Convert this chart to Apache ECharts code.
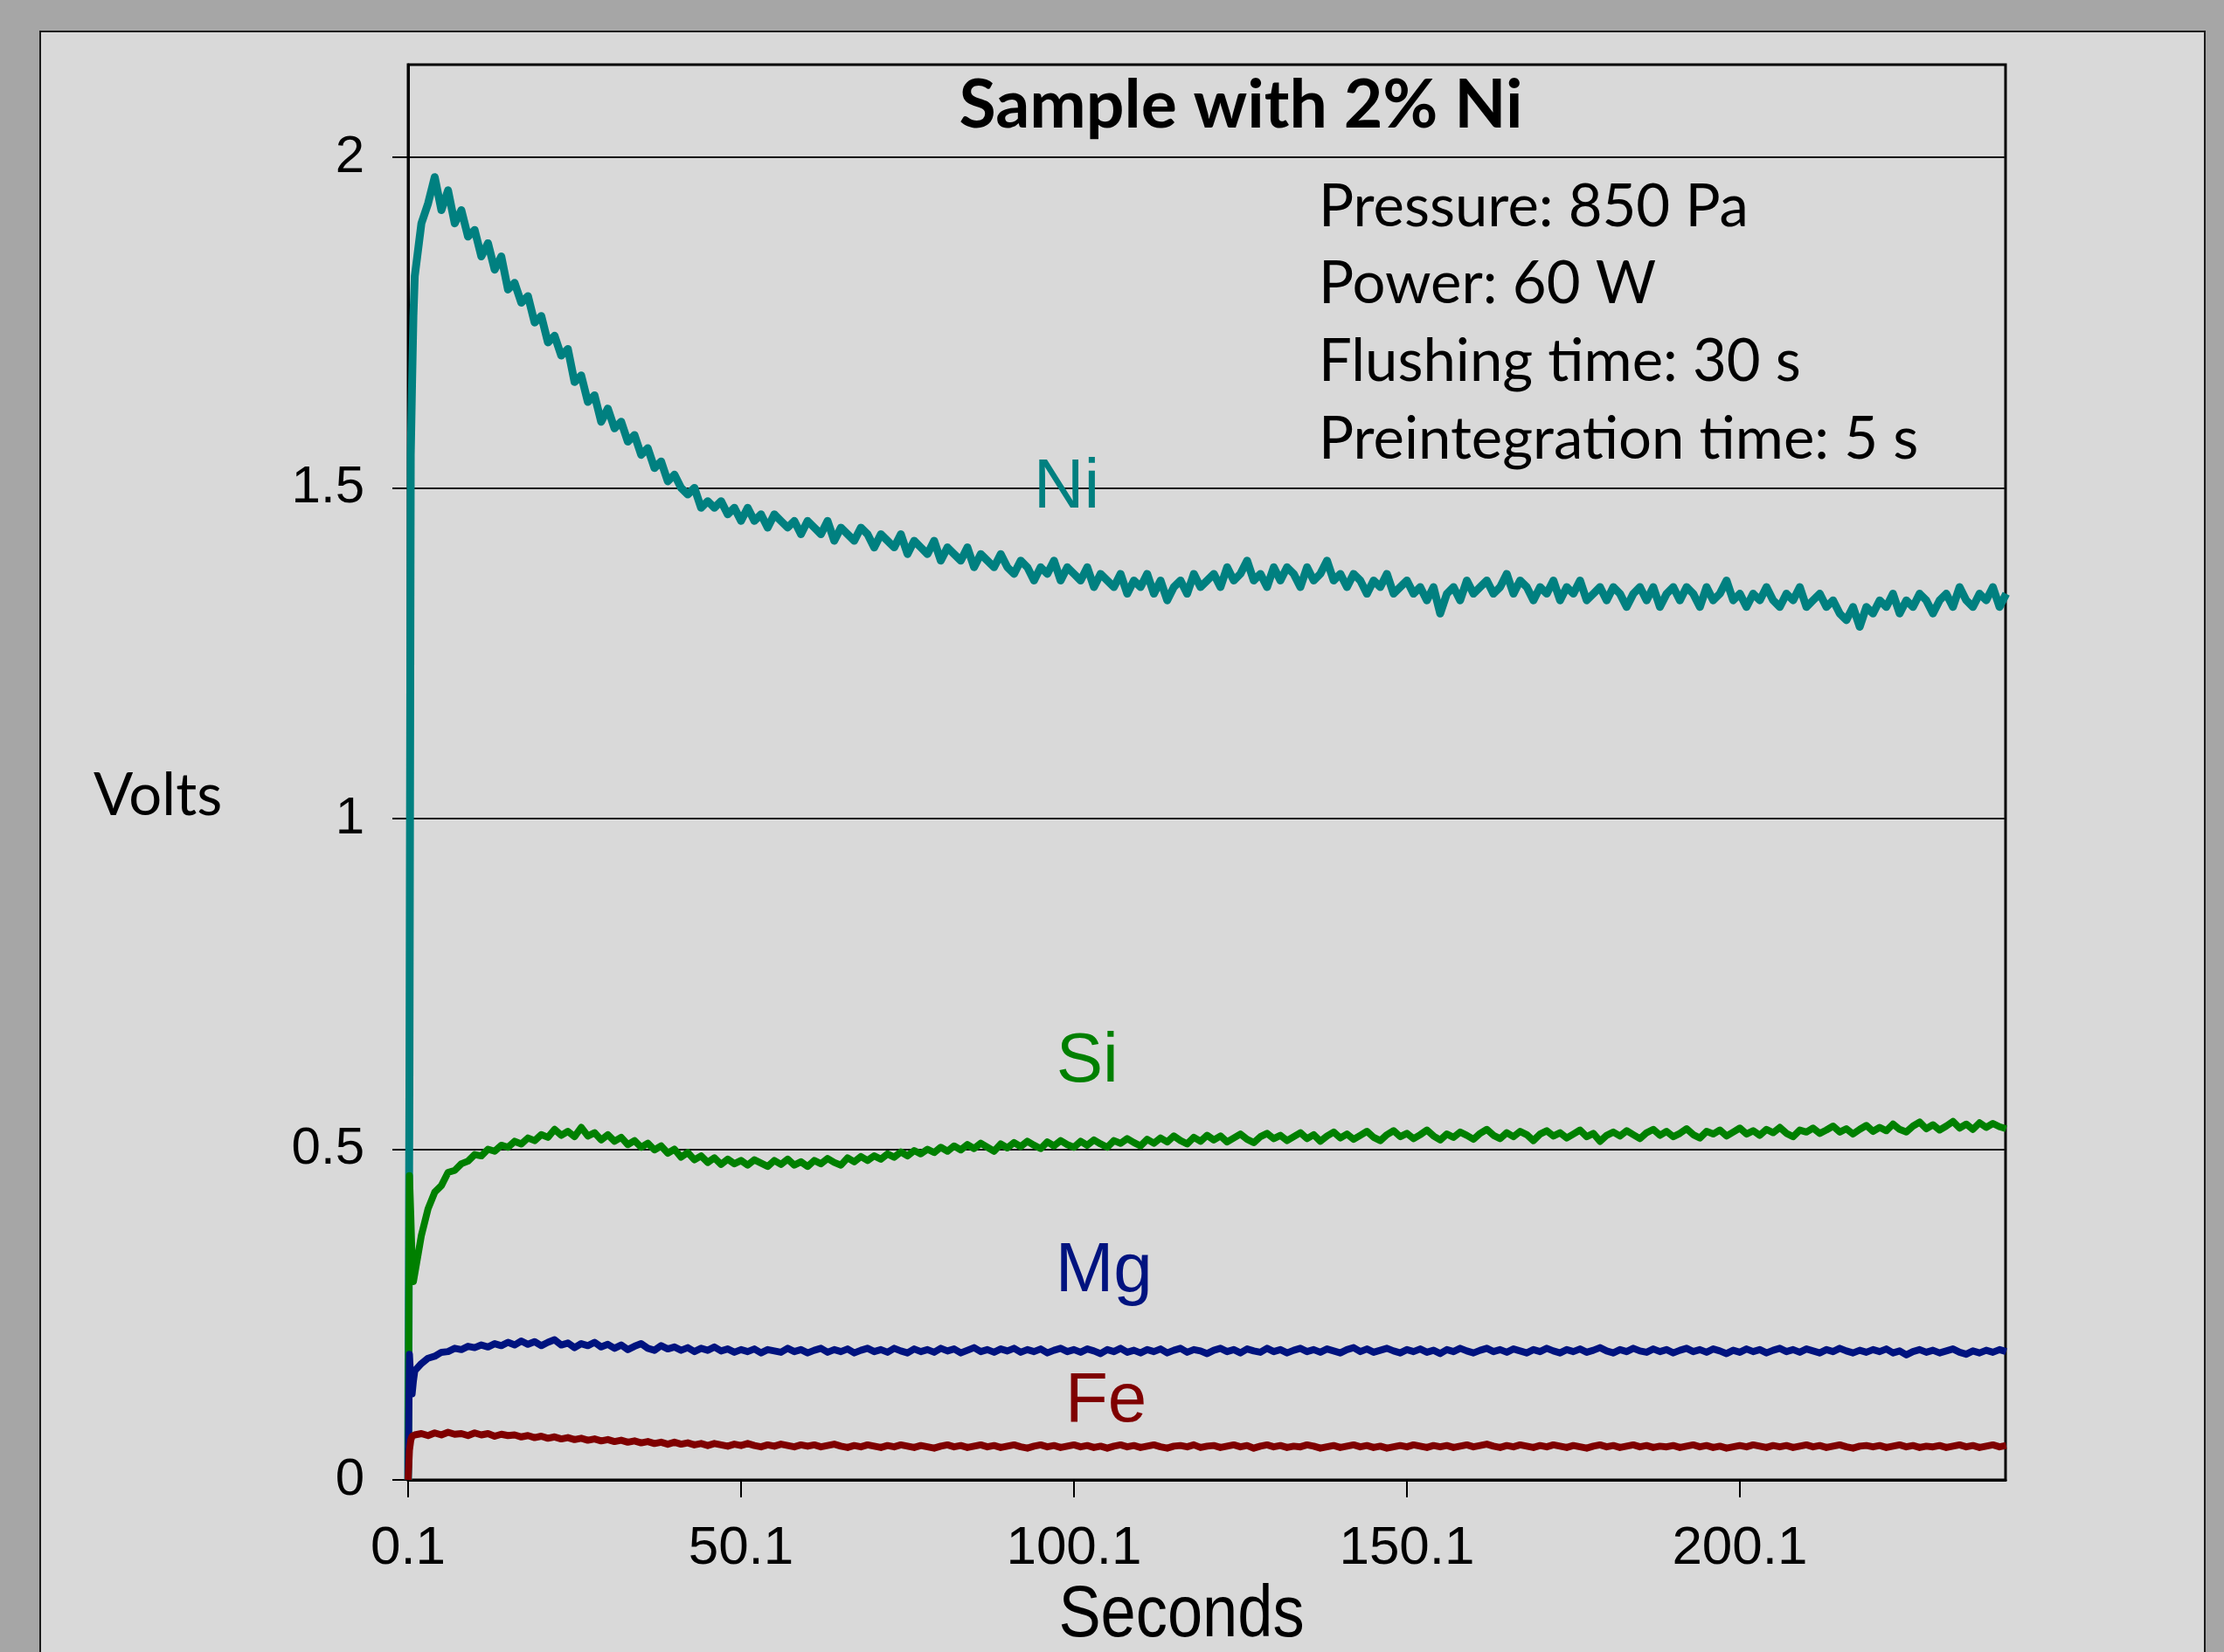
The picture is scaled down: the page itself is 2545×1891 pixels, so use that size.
<!DOCTYPE html>
<html><head><meta charset="utf-8">
<script src="https://cdn.jsdelivr.net/npm/echarts@6/dist/echarts.min.js"></script>
<style>
html,body{margin:0;padding:0;background:#a6a6a6;}
#wrap{position:relative;width:2545px;height:1891px;background:#a6a6a6;overflow:hidden;}
#panel{position:absolute;left:45px;top:35px;width:2479px;height:1900px;background:#d9d9d9;border:2px solid #1a1a1a;box-sizing:border-box;}
#chart{position:absolute;left:0;top:0;width:2545px;height:1891px;}
</style></head><body>
<div id="wrap"><div id="panel"></div><div id="chart"></div></div>
<script>
// ---- Data (Volts vs Seconds) ----
const titleText = 'Sample with 2% Ni';
const infoLines = ['Pressure: 850 Pa', 'Power: 60 W', 'Flushing time: 30 s', 'Preintegration time: 5 s'];
const xTickLabels = ['0.1', '50.1', '100.1', '150.1', '200.1'];
const yTickLabels = ['0', '0.5', '1', '1.5', '2'];
const seriesNames = ['Ni', 'Si', 'Mg', 'Fe'];

// start-up samples (seconds)
const startTimes = [0.1, 0.3, 0.5, 0.7, 0.9];
const niStart = [0.00, 0.60, 1.55, 1.66, 1.76];
const siStart = [0.00, 0.46, 0.40, 0.33, 0.30];
const mgStart = [0.00, 0.19, 0.15, 0.13, 0.15];
const feStart = [0.00, 0.045, 0.060, 0.066, 0.068];

// main samples: one per second from 1.1 s to 240.1 s
const mainStart = 1.1, mainStep = 1;
const niMain = [
1.82,1.90,1.93,1.97,1.92,1.95,1.90,1.92,1.88,1.89,
1.85,1.87,1.83,1.85,1.80,1.81,1.78,1.79,1.75,1.76,
1.72,1.73,1.70,1.71,1.66,1.67,1.63,1.64,1.60,1.62,
1.59,1.60,1.57,1.58,1.55,1.56,1.53,1.54,1.51,1.52,
1.50,1.49,1.50,1.47,1.48,1.47,1.48,1.46,1.47,1.45,
1.47,1.45,1.46,1.44,1.46,1.45,1.44,1.45,1.43,1.45,
1.44,1.43,1.45,1.42,1.44,1.43,1.42,1.44,1.43,1.41,
1.43,1.42,1.41,1.43,1.40,1.42,1.41,1.40,1.42,1.39,
1.41,1.40,1.39,1.41,1.38,1.40,1.39,1.38,1.40,1.38,
1.37,1.39,1.38,1.36,1.38,1.37,1.39,1.36,1.38,1.37,
1.36,1.38,1.35,1.37,1.36,1.35,1.37,1.34,1.36,1.35,
1.37,1.34,1.36,1.33,1.35,1.36,1.34,1.37,1.35,1.36,
1.37,1.35,1.38,1.36,1.37,1.39,1.36,1.37,1.35,1.38,
1.36,1.38,1.37,1.35,1.38,1.36,1.37,1.39,1.36,1.37,
1.35,1.37,1.36,1.34,1.36,1.35,1.37,1.34,1.35,1.36,
1.34,1.35,1.33,1.35,1.31,1.34,1.35,1.33,1.36,1.34,
1.35,1.36,1.34,1.35,1.37,1.34,1.36,1.35,1.33,1.35,
1.34,1.36,1.33,1.35,1.34,1.36,1.33,1.34,1.35,1.33,
1.35,1.34,1.32,1.34,1.35,1.33,1.35,1.32,1.34,1.35,
1.33,1.35,1.34,1.32,1.35,1.33,1.34,1.36,1.33,1.34,
1.32,1.34,1.33,1.35,1.33,1.32,1.34,1.33,1.35,1.32,
1.33,1.34,1.32,1.33,1.31,1.30,1.32,1.29,1.32,1.31,
1.33,1.32,1.34,1.31,1.33,1.32,1.34,1.33,1.31,1.33,
1.34,1.32,1.35,1.33,1.32,1.34,1.33,1.35,1.32,1.34
];
const siMain = [
0.300,0.370,0.410,0.435,0.445,0.465,0.468,0.478,0.482,0.492,
0.490,0.500,0.497,0.506,0.503,0.512,0.508,0.517,0.513,0.522,
0.518,0.530,0.521,0.527,0.519,0.533,0.520,0.525,0.514,0.522,
0.512,0.518,0.507,0.513,0.503,0.509,0.499,0.505,0.494,0.500,
0.488,0.495,0.484,0.490,0.480,0.487,0.477,0.485,0.478,0.483,
0.476,0.484,0.479,0.474,0.483,0.477,0.485,0.476,0.481,0.474,
0.483,0.478,0.486,0.480,0.476,0.487,0.481,0.489,0.483,0.490,
0.485,0.493,0.488,0.496,0.490,0.498,0.493,0.500,0.495,0.503,
0.497,0.505,0.499,0.507,0.501,0.509,0.503,0.497,0.508,0.502,
0.510,0.504,0.512,0.506,0.501,0.511,0.505,0.513,0.507,0.503,
0.512,0.506,0.514,0.508,0.503,0.513,0.509,0.516,0.510,0.505,
0.515,0.509,0.517,0.511,0.520,0.513,0.508,0.518,0.512,0.521,
0.514,0.520,0.511,0.517,0.523,0.515,0.510,0.519,0.524,0.516,
0.521,0.513,0.519,0.525,0.516,0.522,0.512,0.520,0.526,0.517,
0.523,0.515,0.521,0.527,0.518,0.513,0.522,0.528,0.519,0.524,
0.516,0.522,0.529,0.520,0.514,0.523,0.518,0.526,0.521,0.515,
0.524,0.530,0.521,0.516,0.525,0.519,0.527,0.522,0.513,0.523,
0.528,0.520,0.525,0.517,0.523,0.529,0.519,0.524,0.512,0.521,
0.526,0.520,0.528,0.522,0.516,0.525,0.530,0.521,0.527,0.519,
0.524,0.531,0.522,0.517,0.527,0.523,0.529,0.520,0.526,0.532,
0.523,0.528,0.521,0.530,0.525,0.533,0.524,0.519,0.529,0.526,
0.532,0.524,0.529,0.535,0.526,0.531,0.523,0.530,0.536,0.527,
0.533,0.528,0.538,0.530,0.526,0.535,0.541,0.531,0.537,0.529,
0.535,0.542,0.532,0.538,0.530,0.540,0.533,0.539,0.534,0.531
];
const mgMain = [
0.165,0.176,0.184,0.187,0.193,0.194,0.199,0.197,0.202,0.200,
0.204,0.201,0.206,0.203,0.208,0.204,0.210,0.205,0.209,0.203,
0.208,0.212,0.204,0.207,0.200,0.206,0.203,0.208,0.201,0.205,
0.199,0.204,0.197,0.202,0.206,0.199,0.196,0.203,0.198,0.201,
0.196,0.200,0.194,0.199,0.196,0.201,0.195,0.198,0.193,0.197,
0.194,0.198,0.192,0.197,0.195,0.193,0.199,0.194,0.197,0.192,
0.196,0.199,0.193,0.197,0.194,0.198,0.192,0.196,0.199,0.194,
0.197,0.193,0.199,0.195,0.192,0.198,0.194,0.197,0.193,0.199,
0.195,0.198,0.192,0.196,0.200,0.194,0.197,0.193,0.198,0.195,
0.199,0.193,0.197,0.194,0.198,0.192,0.196,0.199,0.194,0.197,
0.193,0.198,0.195,0.191,0.197,0.194,0.199,0.193,0.196,0.192,
0.197,0.194,0.198,0.192,0.196,0.199,0.193,0.197,0.195,0.191,
0.196,0.199,0.194,0.197,0.192,0.198,0.195,0.193,0.199,0.194,
0.197,0.192,0.196,0.199,0.194,0.197,0.193,0.198,0.195,0.192,
0.197,0.200,0.194,0.198,0.193,0.196,0.199,0.195,0.192,0.197,
0.194,0.198,0.193,0.196,0.191,0.197,0.194,0.199,0.195,0.192,
0.196,0.199,0.194,0.197,0.193,0.198,0.195,0.192,0.197,0.194,
0.199,0.195,0.192,0.197,0.194,0.198,0.193,0.196,0.200,0.195,
0.192,0.197,0.194,0.199,0.195,0.193,0.198,0.194,0.197,0.192,
0.196,0.199,0.194,0.197,0.193,0.198,0.195,0.191,0.196,0.193,
0.198,0.194,0.197,0.192,0.196,0.199,0.194,0.197,0.193,0.198,
0.195,0.192,0.197,0.194,0.199,0.195,0.192,0.196,0.193,0.197,
0.194,0.198,0.192,0.195,0.189,0.194,0.197,0.193,0.196,0.192,
0.195,0.198,0.193,0.190,0.195,0.192,0.196,0.193,0.197,0.194
];
const feMain = [
0.068,0.070,0.067,0.071,0.068,0.072,0.069,0.070,0.067,0.071,
0.068,0.070,0.066,0.069,0.067,0.068,0.065,0.067,0.064,0.066,
0.063,0.065,0.062,0.064,0.061,0.063,0.060,0.062,0.059,0.061,
0.058,0.060,0.057,0.059,0.056,0.058,0.055,0.057,0.054,0.057,
0.054,0.056,0.053,0.055,0.052,0.055,0.053,0.051,0.054,0.052,
0.055,0.052,0.050,0.053,0.051,0.054,0.052,0.050,0.053,0.051,
0.053,0.050,0.052,0.054,0.051,0.049,0.052,0.050,0.053,0.051,
0.049,0.052,0.050,0.053,0.051,0.049,0.052,0.050,0.048,0.051,
0.053,0.050,0.052,0.049,0.051,0.053,0.050,0.052,0.049,0.051,
0.053,0.050,0.048,0.051,0.053,0.050,0.052,0.049,0.051,0.053,
0.050,0.052,0.049,0.051,0.048,0.051,0.053,0.050,0.052,0.049,
0.051,0.053,0.050,0.048,0.051,0.052,0.050,0.053,0.049,0.051,
0.052,0.049,0.051,0.053,0.050,0.052,0.048,0.051,0.053,0.050,
0.052,0.049,0.051,0.050,0.053,0.051,0.048,0.050,0.052,0.049,
0.051,0.053,0.050,0.052,0.049,0.051,0.048,0.050,0.052,0.050,
0.053,0.051,0.049,0.052,0.050,0.052,0.049,0.051,0.053,0.050,
0.052,0.054,0.051,0.049,0.052,0.050,0.053,0.051,0.049,0.052,
0.050,0.053,0.051,0.049,0.052,0.050,0.048,0.051,0.053,0.050,
0.052,0.049,0.051,0.053,0.050,0.052,0.049,0.051,0.050,0.052,
0.049,0.051,0.053,0.050,0.052,0.049,0.051,0.048,0.050,0.052,
0.050,0.053,0.051,0.049,0.052,0.050,0.052,0.049,0.051,0.053,
0.050,0.052,0.049,0.051,0.053,0.050,0.048,0.051,0.052,0.050,
0.052,0.049,0.051,0.053,0.050,0.052,0.049,0.051,0.050,0.052,
0.049,0.051,0.053,0.050,0.052,0.049,0.051,0.053,0.050,0.052
];

// label anchor points (seconds, volts) for series names
const labelAnchors = { Ni: [99.0, 1.50], Si: [102.1, 0.632], Mg: [104.6, 0.315], Fe: [104.9, 0.118] };
const colors = { Ni: '#008080', Si: '#008000', Mg: '#00137f', Fe: '#7f0000' };
const lineWidths = { Ni: 9, Si: 8, Mg: 8, Fe: 8 };

function buildSeries(startVals, mainVals) {
  const d = [];
  startTimes.forEach((t, i) => d.push([t, startVals[i]]));
  mainVals.forEach((v, i) => d.push([+(mainStart + i * mainStep).toFixed(1), v]));
  return d;
}
const seriesData = {
  Ni: buildSeries(niStart, niMain),
  Si: buildSeries(siStart, siMain),
  Mg: buildSeries(mgStart, mgMain),
  Fe: buildSeries(feStart, feMain)
};

const xTickValues = xTickLabels.map(Number);
const yTickValues = yTickLabels.map(Number);
const arial = "'Liberation Sans',Arial,sans-serif";
const calibriLike = "Lato,'Open Sans',sans-serif";

const chart = echarts.init(document.getElementById('chart'), null, { renderer: 'canvas' });
chart.setOption({
  backgroundColor: 'transparent',
  animation: false,
  grid: { left: 467, right: 250, top: 74, bottom: 197, show: true, borderColor: '#000', borderWidth: 3, backgroundColor: 'transparent' },
  xAxis: {
    type: 'value', min: 0.1, max: 240, interval: 50,
    axisLine: { show: true, onZero: false, lineStyle: { color: '#000', width: 3 } },
    axisTick: { show: true, length: 20, customValues: xTickValues, lineStyle: { color: '#000', width: 2 } },
    axisLabel: { customValues: xTickValues, margin: 48, fontSize: 62, fontFamily: arial, color: '#000',
      formatter: v => xTickLabels[xTickValues.indexOf(v)] ?? '' },
    splitLine: { show: false }
  },
  yAxis: {
    type: 'value', min: 0, max: 2.14, interval: 0.5,
    axisLine: { show: true, onZero: false, lineStyle: { color: '#000', width: 3 } },
    axisTick: { show: true, length: 18, customValues: yTickValues, lineStyle: { color: '#000', width: 2 } },
    axisLabel: { customValues: yTickValues, margin: 50, fontSize: 60, fontFamily: arial, color: '#000',
      formatter: v => yTickLabels[yTickValues.indexOf(v)] ?? '' },
    splitLine: { show: true, lineStyle: { color: '#111', width: 2 } }
  },
  series: seriesNames.map(name => ({
    name, type: 'line', data: seriesData[name], showSymbol: false, symbol: 'none',
    lineStyle: { color: colors[name], width: lineWidths[name], join: 'round' },
    itemStyle: { color: colors[name] },
    markPoint: {
      symbol: 'circle', symbolSize: 1, itemStyle: { color: 'rgba(0,0,0,0)' },
      label: { show: true, position: 'inside', formatter: name, fontSize: 80, fontFamily: arial, color: colors[name] },
      data: [{ coord: labelAnchors[name] }]
    }
  })),
  graphic: [
    { type: 'text', x: 1420, y: 121, z: 100, style: { text: titleText, fontSize: 77, fontWeight: 'bold', fontFamily: calibriLike, fill: '#000', textAlign: 'center', textVerticalAlign: 'middle' } },
    ...infoLines.map((t, i) => ({ type: 'text', x: 1509, y: 237 + i * 88.7, z: 100,
      style: { text: t, fontSize: 67, fontFamily: calibriLike, fill: '#000', textAlign: 'left', textVerticalAlign: 'middle' } })),
    { type: 'text', x: 107, y: 911, z: 100, style: { text: 'Volts', fontSize: 67, fontFamily: calibriLike, fill: '#000', textAlign: 'left', textVerticalAlign: 'middle' } },
    { type: 'text', x: 1352, y: 1850, z: 100, scaleX: 0.86, style: { text: 'Seconds', fontSize: 84, fontFamily: arial, fill: '#000', textAlign: 'center', textVerticalAlign: 'middle' } }
  ]
});
</script>
</body></html>
